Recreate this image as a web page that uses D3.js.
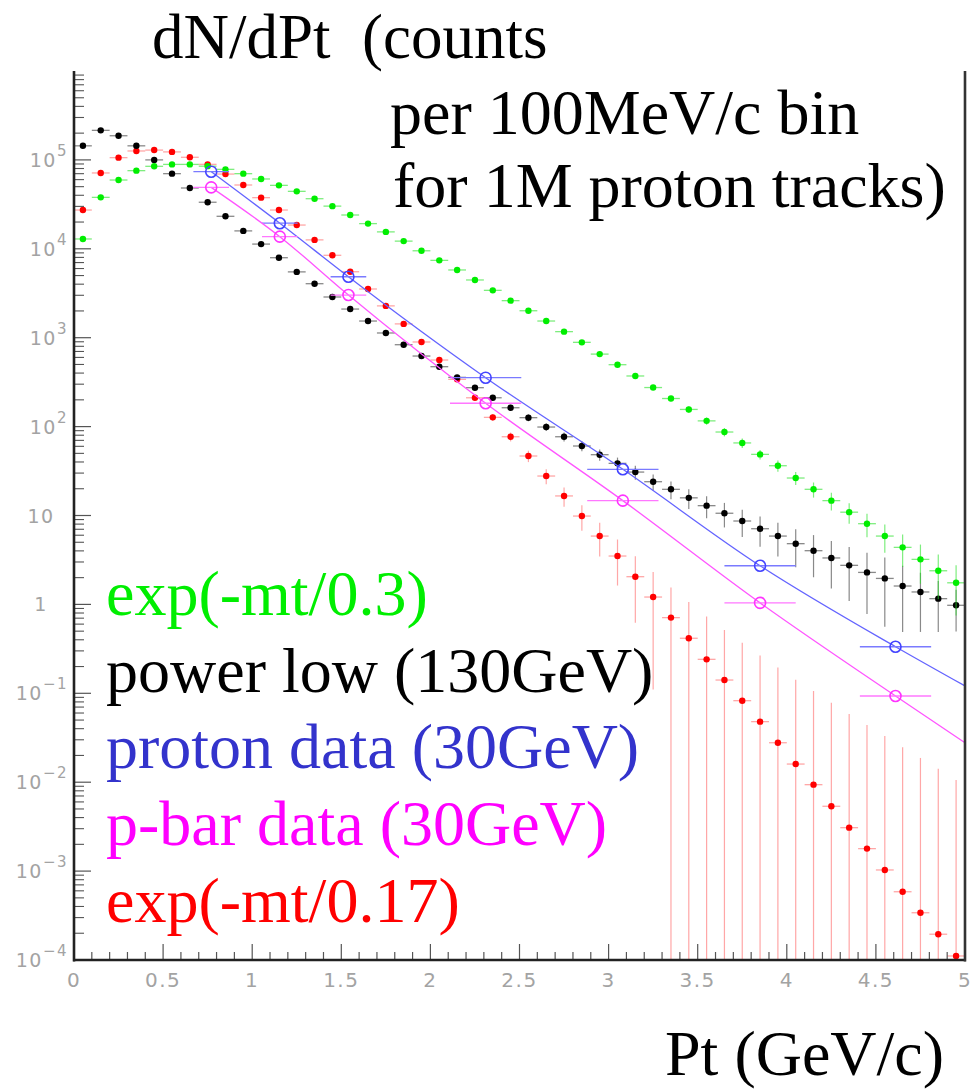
<!DOCTYPE html>
<html><head><meta charset="utf-8">
<script src="https://cdn.jsdelivr.net/npm/d3@7"></script>
<style>body{margin:0;background:#fff} svg{display:block}</style>
</head><body>
<svg id="c" width="974" height="1091"></svg>
<script>
// ---- data ----
const binCenters = [0.05,0.15,0.25,0.35,0.45,0.55,0.65,0.75,0.85,0.95,
  1.05,1.15,1.25,1.35,1.45,1.55,1.65,1.75,1.85,1.95,
  2.05,2.15,2.25,2.35,2.45,2.55,2.65,2.75,2.85,2.95,
  3.05,3.15,3.25,3.35,3.45,3.55,3.65,3.75,3.85,3.95,
  4.05,4.15,4.25,4.35,4.45,4.55,4.65,4.75,4.85,4.95];
const binHalfWidth = 0.05;

// exp(-mt/0.3)
const greenVals = [1.29e4,3.79e4,5.94e4,7.57e4,8.47e4,8.9e4,8.9e4,8.5e4,7.83e4,7.0e4,
  6.1e4,5.17e4,4.43e4,3.66e4,3.02e4,2.4e4,1.92e4,1.55e4,1.22e4,9500,
  7410,5780,4460,3410,2610,2010,1540,1170,887,654,
  497,371,275,207,156,116,86.9,65.5,48.7,36.3,
  26.4,19.7,14.7,10.9,8.09,5.87,4.38,3.21,2.39,1.75];
const greenErrs = [114,195,244,275,291,298,298,292,280,265,
  247,227,210,191,174,155,139,124,110,97,
  86,76,67,58,51,45,39,34,30,25.6,
  22.3,19.3,16.6,14.4,12.5,10.8,9.3,8.1,6.0,5.2,
  4.4,3.8,3.3,2.8,2.4,2.05,1.75,1.5,1.25,1.0];

// power law (130GeV)
const blackVals = [1.44e5,2.15e5,1.87e5,1.44e5,1.0e5,7.0e4,4.83e4,3.34e4,2.32e4,1.59e4,
  1.13e4,7940,5500,4050,2870,2100,1540,1130,834,622,
  472,358,274,211,163,126,98.9,76.9,60.5,48.3,
  38.6,30.8,24.0,19.7,15.8,12.9,10.6,8.67,7.1,5.87,
  4.82,4.02,3.33,2.75,2.29,1.96,1.61,1.38,1.16,0.977];
const blackErrs = [379,464,432,379,316,265,220,183,152,126,
  106,89,74,64,54,46,39,34,29,25,
  21.7,18.9,16.6,14.5,12.8,11.2,9.94,8.77,7.78,6.95,
  6.21,5.55,4.9,4.44,3.97,3.59,3.26,2.94,2.66,2.42,
  2.2,2.0,1.82,1.66,1.51,1.4,1.12,0.89,0.67,0.48];

// exp(-mt/0.17)
const redVals = [2.73e4,7.13e4,1.06e5,1.26e5,1.29e5,1.23e5,1.07e5,8.91e4,6.93e4,5.22e4,
  3.76e4,2.73e4,1.85e4,1.26e4,8450,5520,3530,2280,1430,895,
  561,340,211,127,76.9,46.7,27.8,16.6,9.86,5.87,
  3.5,2.05,1.21,0.71,0.416,0.241,0.141,0.0826,0.048,0.0278,
  0.016,0.00938,0.00536,0.00308,0.00179,0.00103,0.000586,0.00034,0.000195,0.000111];
const redErrs = [165,267,326,355,359,351,327,298,263,228,
  194,165,136,112,92,74,59.4,47.7,37.8,29.9,
  23.7,18.4,14.5,11.3,8.77,6.83,5.27,4.07,3.14,2.42,
  1.87,1.43,1.1,0.84,0.645,0.49,0.375,0.287,0.219,0.167,
  0.126,0.097,0.073,0.0555,0.0423,0.0321,0.0242,0.0184,0.014,0.0105];

// proton data (30GeV) and p-bar data (30GeV)
const dataX    = [0.77,1.155,1.54,2.31,3.08,3.85,4.61];
const dataXErr = [0.1,0.1,0.1,0.2,0.2,0.2,0.2];
const protonVals = [7.37e4,1.94e4,4850,355,33.1,2.72,0.334];
const pbarVals   = [4.91e4,1.37e4,3020,183,14.7,1.04,0.0933];
// fitted curves continue to the right edge of the frame
const fitEndX = 5;
const protonFitEnd = 0.121;
const pbarFitEnd = 0.0278;

const xTicksMajor = [0,0.5,1,1.5,2,2.5,3,3.5,4,4.5,5];
const xTickLabels = ["0","0.5","1","1.5","2","2.5","3","3.5","4","4.5","5"];
const yDecades = [-4,-3,-2,-1,0,1,2,3,4,5];

const legendItems = ["exp(-mt/0.3)","power low (130GeV)","proton data (30GeV)","p-bar data (30GeV)","exp(-mt/0.17)"];
const legendColors = ["#00ee00","#000000","#3333cc","#ff00ff","#ff0000"];

// ---- drawing ----
const svg = d3.select("#c");
const X0 = 74, X1 = 965, YB = 960, YT = 71;
const x = d3.scaleLinear().domain([0,5]).range([X0,X1]);
const yMin = 1e-4, yMax = 1e6;
const y = d3.scaleLog().domain([yMin,yMax]).range([YB,YT]);

const plot = svg.append("g");

function drawHist(vals, errs, color, barColor){
  const g = plot.append("g");
  const d = vals.map((v,i)=>({x:binCenters[i], v, e:errs[i]}));
  g.selectAll("line.v").data(d).join("line").attr("class","v")
    .attr("x1",p=>x(p.x)).attr("x2",p=>x(p.x))
    .attr("y1",p=>y(Math.min(p.v+p.e,yMax)))
    .attr("y2",p=>p.v-p.e>yMin? y(p.v-p.e): y(yMin))
    .attr("stroke",barColor).attr("stroke-width",1.2);
  g.selectAll("line.h").data(d).join("line").attr("class","h")
    .attr("x1",p=>x(p.x-binHalfWidth)).attr("x2",p=>x(p.x+binHalfWidth))
    .attr("y1",p=>y(p.v)).attr("y2",p=>y(p.v))
    .attr("stroke",barColor).attr("stroke-width",1.3);
  g.selectAll("circle").data(d).join("circle")
    .attr("cx",p=>x(p.x)).attr("cy",p=>y(p.v)).attr("r",3.2)
    .attr("fill",color);
}

drawHist(redVals, redErrs, "#ff0000", "rgba(255,80,80,0.5)");
drawHist(blackVals, blackErrs, "#000000", "rgba(40,40,40,0.55)");
drawHist(greenVals, greenErrs, "#00ee00", "rgba(40,225,40,0.6)");

function drawData(vals, endVal, color, lineColor, barColor){
  const g = plot.append("g");
  const pts = dataX.map((xx,i)=>[xx, vals[i]]).concat([[fitEndX, endVal]]);
  g.append("path").attr("d", d3.line().x(p=>x(p[0])).y(p=>y(p[1])).curve(d3.curveMonotoneX)(pts))
    .attr("fill","none").attr("stroke",lineColor).attr("stroke-width",1.3);
  const d = dataX.map((xx,i)=>({x:xx, v:vals[i], xe:dataXErr[i]}));
  g.selectAll("line").data(d).join("line")
    .attr("x1",p=>x(p.x-p.xe)).attr("x2",p=>x(p.x+p.xe))
    .attr("y1",p=>y(p.v)).attr("y2",p=>y(p.v))
    .attr("stroke",barColor).attr("stroke-width",1.3);
  g.selectAll("circle").data(d).join("circle")
    .attr("cx",p=>x(p.x)).attr("cy",p=>y(p.v)).attr("r",5.5)
    .attr("fill","none").attr("stroke",color).attr("stroke-width",1.6);
}
drawData(protonVals, protonFitEnd, "#4444ff", "#6464ff", "#7a7aff");
drawData(pbarVals, pbarFitEnd, "#ff33ff", "#ff55ff", "#ff77ff");

// axes
const ax = svg.append("g");
yDecades.forEach(k=>{
  const v = Math.pow(10,k);
  ax.append("line").attr("x1",X0).attr("x2",X0+17).attr("y1",y(v)).attr("y2",y(v))
    .attr("stroke","#555").attr("stroke-width",1.2);
  for(let m=2;m<=9;m++){
    const mv = m*v;
    ax.append("line").attr("x1",X0).attr("x2",X0+10).attr("y1",y(mv)).attr("y2",y(mv))
      .attr("stroke","#555").attr("stroke-width",1.1);
  }
  const t = ax.append("text").attr("font-family","DejaVu Sans, sans-serif")
    .attr("font-size",19).attr("fill","#a3a3a3").attr("letter-spacing",1.5)
    .attr("y", y(v)+7);
  if(k===0 || k===1){
    t.attr("x",41).attr("text-anchor","middle").text(k===0?"1":"10");
  } else {
    t.attr("x",68).attr("text-anchor","end");
    t.append("tspan").text("10");
    t.append("tspan").attr("dy",-11).attr("font-size",15).text(k<0? "\u2212"+(-k) : String(k));
  }
});
for(let i=0;i<=50;i++){
  const xv = i/10;
  const major = (i%5===0);
  ax.append("line").attr("x1",x(xv)).attr("x2",x(xv)).attr("y1",YB).attr("y2",YB-(major?16:8))
    .attr("stroke","#555").attr("stroke-width",1.2);
}
xTicksMajor.forEach((v,i)=>{
  ax.append("text").attr("x",x(v)).attr("y",987).attr("text-anchor","middle")
    .attr("font-family","DejaVu Sans, sans-serif").attr("font-size",20)
    .attr("letter-spacing",1.5).attr("fill","#a3a3a3").text(xTickLabels[i]);
});
ax.append("line").attr("x1",X0).attr("x2",X0).attr("y1",YT).attr("y2",YB+1.5).attr("stroke","#222").attr("stroke-width",2.6);
ax.append("line").attr("x1",X0-1).attr("x2",X1+1).attr("y1",YB).attr("y2",YB).attr("stroke","#222").attr("stroke-width",2.6);
ax.append("line").attr("x1",X1).attr("x2",X1).attr("y1",YT).attr("y2",YB+1.5).attr("stroke","#333").attr("stroke-width",2.6);

// texts
const serif = "Liberation Serif, Times New Roman, serif";
function txt(s,xx,yy,color,fs){
  svg.append("text").attr("x",xx).attr("y",yy).attr("font-family",serif)
    .attr("font-size",fs||64).attr("fill",color).style("white-space","pre").text(s);
}
txt("dN/dPt  (counts",152,58,"#000",63);
txt("per 100MeV/c bin",390,134,"#000");
txt("for 1M proton tracks)",393,207,"#000");
txt("Pt (GeV/c)",665,1075,"#000");
const legendBase = [615,692,768,845,922];
legendItems.forEach((s,i)=>txt(s,106,legendBase[i],legendColors[i]));
</script>
</body></html>
